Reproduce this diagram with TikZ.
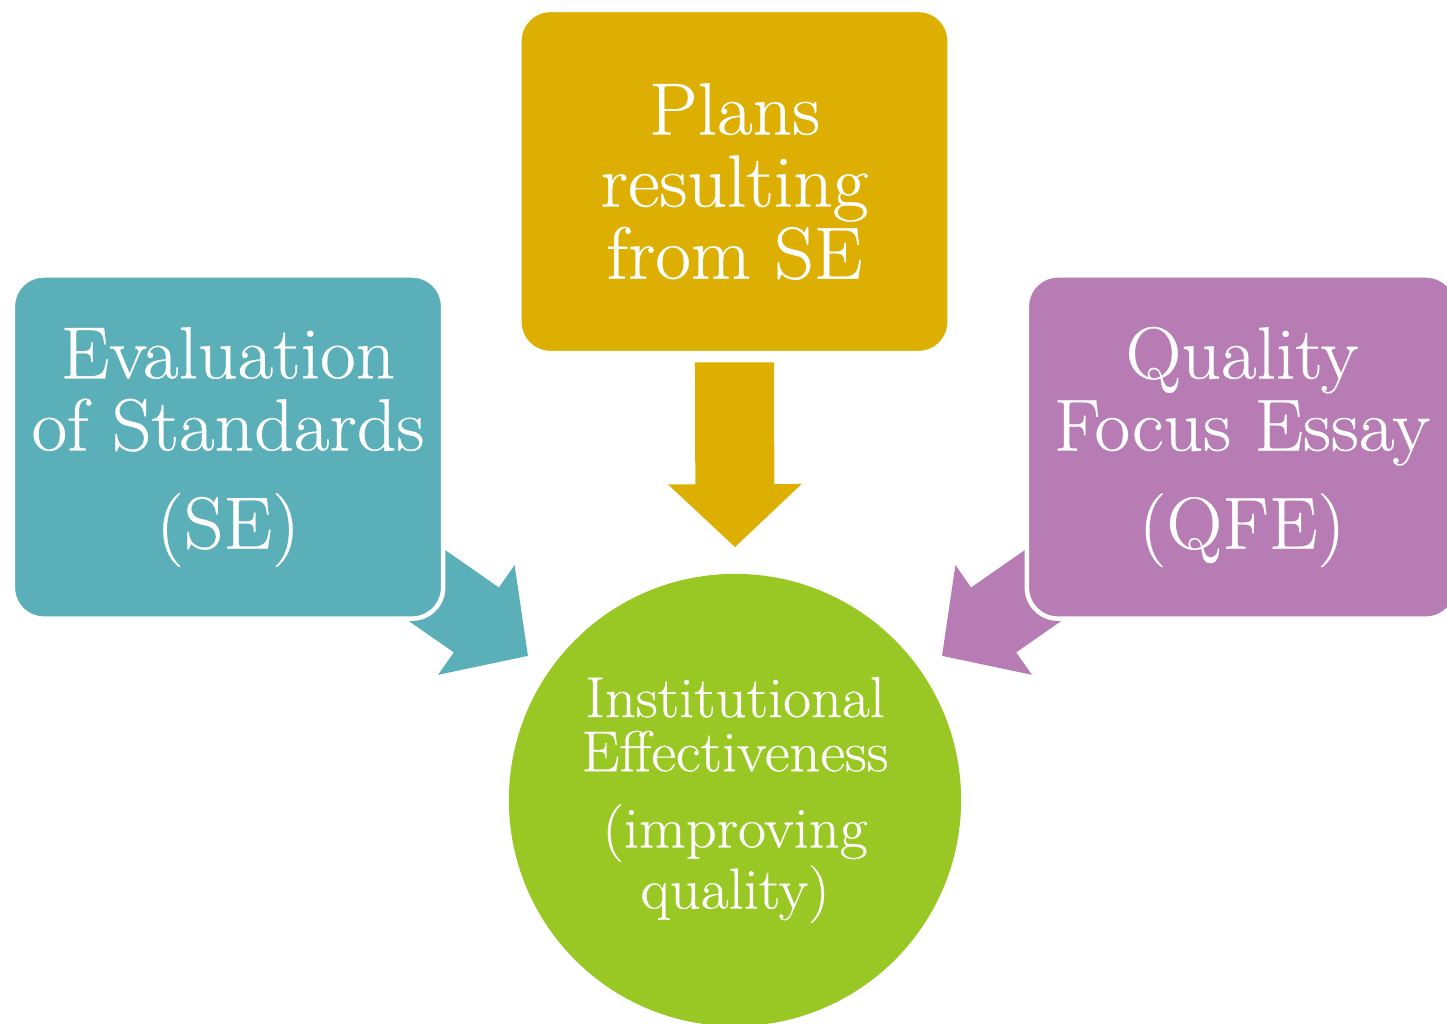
\documentclass[tikz,border=0pt]{standalone}
\usepackage{fontspec}
\setmainfont{Latin Modern Roman}[FakeStretch=1.05,FakeBold=0.4]
\usetikzlibrary{arrows.meta,calc,backgrounds}

\definecolor{seteal}{RGB}{91,175,184}
\definecolor{plangold}{RGB}{221,175,2}
\definecolor{qfepurple}{RGB}{182,124,179}
\definecolor{iegreen}{RGB}{153,199,36}

\tikzset{
  box/.style={rounded corners=0.31cm, draw=white, line width=0.045cm,
    minimum width=4.3cm, minimum height=3.43cm, text=white, align=center,
    font=\fontsize{21pt}{20.5pt}\selectfont},
  hub/.style={circle, minimum size=4.52cm, text=white, align=center,
    font=\fontsize{16.4pt}{15.4pt}\selectfont},
  bigarrow/.style={line width=0.79cm, -{Triangle[width=1.3cm,length=0.63cm]}}
}

\begin{document}
\begin{tikzpicture}[x=0.01cm,y=-0.01cm]
   \useasboundingbox (0,0) rectangle (1447,1023);
   \clip (0,0) rectangle (1447,1023);
   % the four blocks
   \node[hub, fill=iegreen]      (ie)    at (735,800)   {Institutional\\Effectiveness\\[0.22cm](improving\\quality)};
   \node[box, fill=seteal]       (se)    at (228,447)   {Evaluation\\of Standards\\[0.26cm](SE)};
   \node[box, fill=plangold]     (plans) at (734.5,181.5) {Plans\\resulting\\from SE};
   \node[box, fill=qfepurple]    (qfe)   at (1242,447)  {Quality\\Focus Essay\\[0.26cm](QFE)};
   % block arrows into the circle
   \begin{pgfonlayer}{background}
   \draw[bigarrow, seteal]    ($(se.center)!1.76cm!(ie.center)$) -- ($(ie.center)!2.52cm!(se.center)$);
   \draw[bigarrow, qfepurple] ($(qfe.center)!1.76cm!(ie.center)$) -- ($(ie.center)!2.52cm!(qfe.center)$);
   \draw[bigarrow, plangold]  ($(plans.south)+(0,7)$) -- ($(ie.north)+(0,-26)$);
   \end{pgfonlayer}
\end{tikzpicture}
\end{document}
